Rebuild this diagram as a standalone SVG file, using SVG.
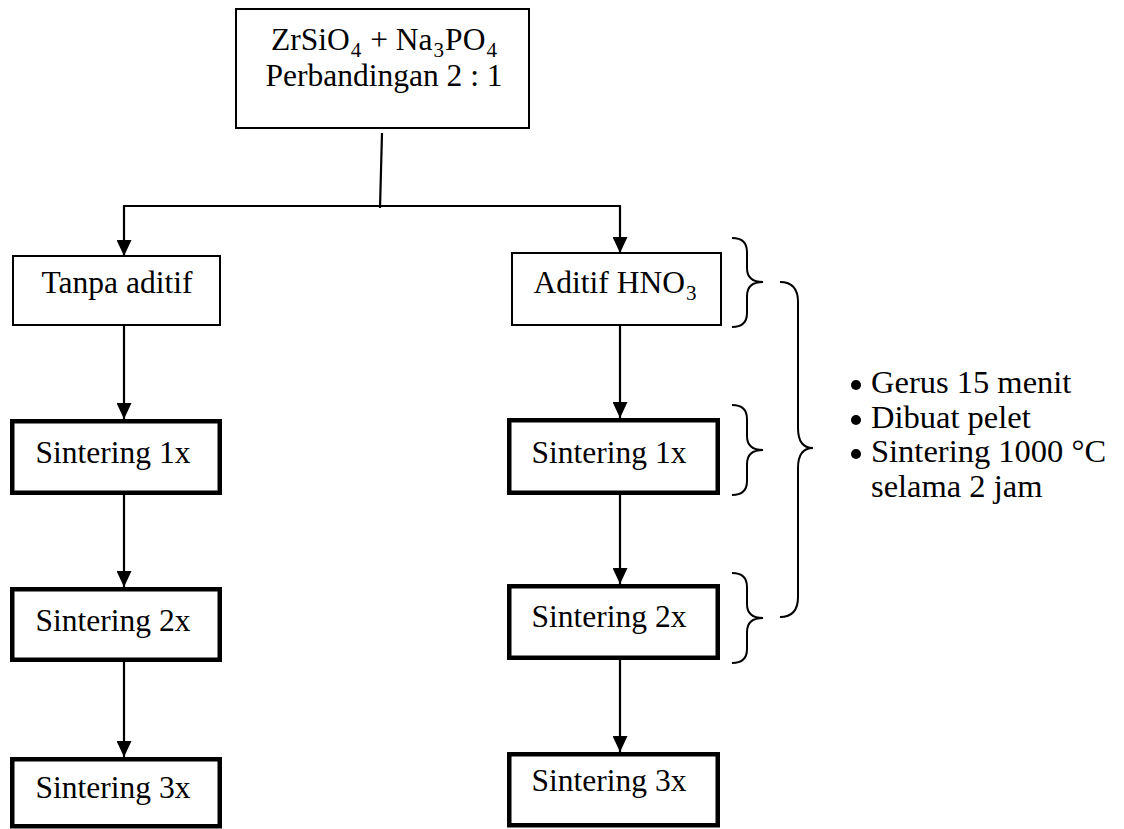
<svg xmlns="http://www.w3.org/2000/svg" width="1124" height="829" viewBox="0 0 1124 829">
  <style>
    .box { fill: #fff; stroke: #000; stroke-width: 2; }
    .bold { fill: #fff; stroke: #000; stroke-width: 4.5; }
    .lbl { font-family: "Liberation Serif", "Times New Roman", serif; font-size: 31.5px; fill: #000; text-anchor: middle; }
    .note { font-family: "Liberation Serif", "Times New Roman", serif; font-size: 32.5px; fill: #000; }
    .sub { font-size: 21px; }
    .wire { fill: none; stroke: #000; stroke-width: 2.2; }
    .brace { fill: none; stroke: #000; stroke-width: 2; }
  </style>
  <defs>
    <marker id="arrow" viewBox="0 0 16 15" refX="16" refY="7.5" markerWidth="16" markerHeight="15" markerUnits="userSpaceOnUse" orient="auto">
      <path d="M0,0 L16,7.5 L0,15 Z" fill="#000"/>
    </marker>
  </defs>
  <rect width="1124" height="829" fill="#fff"/>

  <!-- connectors -->
  <g id="connectors">
    <line class="wire" x1="382" y1="133" x2="380" y2="208"/>
    <line class="wire" x1="123" y1="206" x2="621" y2="206"/>
    <path class="wire" d="M124,206 V256" marker-end="url(#arrow)"/>
    <path class="wire" d="M620,206 V253" marker-end="url(#arrow)"/>
    <path class="wire" d="M124,325 V419" marker-end="url(#arrow)"/>
    <path class="wire" d="M124,495 V587" marker-end="url(#arrow)"/>
    <path class="wire" d="M124,662 V757" marker-end="url(#arrow)"/>
    <path class="wire" d="M620,325 V418" marker-end="url(#arrow)"/>
    <path class="wire" d="M620,488 V584" marker-end="url(#arrow)"/>
    <path class="wire" d="M620,660 V752" marker-end="url(#arrow)"/>
  </g>

  <!-- start material -->
  <g id="start">
    <rect class="box" x="236" y="9" width="293" height="119"/>
    <text class="lbl" x="384" y="50">ZrSiO<tspan class="sub" dx="1" baseline-shift="-7">4</tspan><tspan dx="1"> + Na</tspan><tspan class="sub" dx="1" baseline-shift="-7">3</tspan><tspan dx="1">PO</tspan><tspan class="sub" dx="1" baseline-shift="-7">4</tspan></text>
    <text class="lbl" x="384" y="86">Perbandingan 2 : 1</text>
  </g>

  <!-- left branch -->
  <g id="tanpa-aditif">
    <rect class="box" x="13" y="256" width="207" height="69"/>
    <text class="lbl" x="117" y="293">Tanpa aditif</text>
  </g>
  <g id="left-sinter-1">
    <rect class="bold" x="12.25" y="421.25" width="207.5" height="71.5"/>
    <text class="lbl" x="113" y="463">Sintering 1x</text>
  </g>
  <g id="left-sinter-2">
    <rect class="bold" x="12.25" y="589.25" width="207.5" height="70.5"/>
    <text class="lbl" x="113" y="631">Sintering 2x</text>
  </g>
  <g id="left-sinter-3">
    <rect class="bold" x="12.25" y="759.25" width="207.5" height="67"/>
    <text class="lbl" x="113" y="798">Sintering 3x</text>
  </g>

  <!-- right branch -->
  <g id="aditif-hno3">
    <rect class="box" x="512" y="253" width="209" height="72"/>
    <text class="lbl" x="615" y="293">Aditif HNO<tspan class="sub" dx="1" baseline-shift="-7">3</tspan></text>
  </g>
  <g id="right-sinter-1">
    <rect class="bold" x="509.25" y="420.25" width="208.5" height="72.5"/>
    <text class="lbl" x="609" y="463">Sintering 1x</text>
  </g>
  <g id="right-sinter-2">
    <rect class="bold" x="509.25" y="586.25" width="208.5" height="71.5"/>
    <text class="lbl" x="609" y="627">Sintering 2x</text>
  </g>
  <g id="right-sinter-3">
    <rect class="bold" x="509.25" y="754.25" width="208.5" height="71"/>
    <text class="lbl" x="609" y="791">Sintering 3x</text>
  </g>

  <!-- braces grouping the treated steps -->
  <g id="braces">
    <path class="brace" d="M732,238 Q747,238 747,252 L747,268 Q747,282 763,282 Q747,282 747,296 L747,313 Q747,327 732,327"/>
    <path class="brace" d="M732,405 Q747,405 747,419 L747,436 Q747,450 763,450 Q747,450 747,464 L747,481 Q747,495 732,495"/>
    <path class="brace" d="M732,573 Q747,573 747,587 L747,604 Q747,618 763,618 Q747,618 747,632 L747,649 Q747,663 732,663"/>
    <path class="brace" d="M780,282 Q798,282 798,302 L798,428 Q798,448 813,448 Q798,448 798,468 L798,597 Q798,617 780,617"/>
  </g>

  <!-- process notes -->
  <g id="notes">
    <circle cx="856" cy="385" r="5"/>
    <circle cx="856" cy="420" r="5"/>
    <circle cx="856" cy="454" r="5"/>
    <text class="note" x="871" y="393">Gerus 15 menit</text>
    <text class="note" x="871" y="428">Dibuat pelet</text>
    <text class="note" x="871" y="462">Sintering 1000 °C</text>
    <text class="note" x="871" y="497">selama 2 jam</text>
  </g>
</svg>
